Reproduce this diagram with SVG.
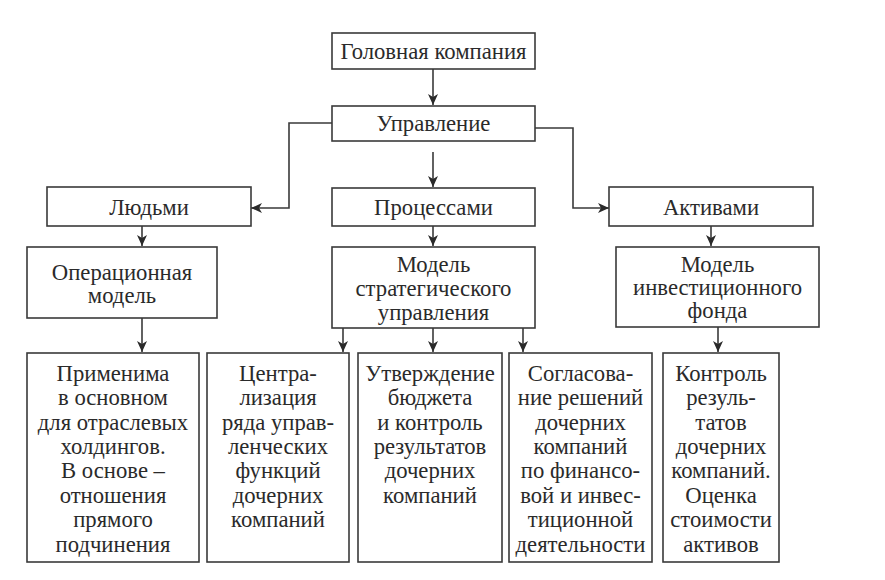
<svg xmlns="http://www.w3.org/2000/svg" width="885" height="580" viewBox="0 0 885 580">
<style>
.b{fill:#fff;stroke:#3a3a3a;stroke-width:1.6}
.t{font-family:"Liberation Serif","DejaVu Serif",serif;font-size:22.7px;fill:#2a2a2a;text-anchor:middle}
.c{fill:none;stroke:#3a3a3a;stroke-width:1.6}
</style>
<defs>
<marker id="ar" markerUnits="userSpaceOnUse" markerWidth="12" markerHeight="10" refX="11" refY="5" orient="auto">
<path d="M0,0 L11,5 L0,10 L3,5 Z" fill="#2a2a2a"/>
</marker>
</defs>
<rect width="885" height="580" fill="#fff"/>
<g id="connectors">
<path class="c" d="M433,69 V105" marker-end="url(#ar)"/>
<path class="c" d="M332,123 H289 V208 H251" marker-end="url(#ar)"/>
<path class="c" d="M535,128 H573 V208 H609" marker-end="url(#ar)"/>
<path class="c" d="M433,152 V187" marker-end="url(#ar)"/>
<path class="c" d="M433,226 V246" marker-end="url(#ar)"/>
<path class="c" d="M142,226 V246" marker-end="url(#ar)"/>
<path class="c" d="M711,226 V246" marker-end="url(#ar)"/>
<path class="c" d="M142,318 V352" marker-end="url(#ar)"/>
<path class="c" d="M343,328 V352" marker-end="url(#ar)"/>
<path class="c" d="M433,328 V352" marker-end="url(#ar)"/>
<path class="c" d="M523,328 V352" marker-end="url(#ar)"/>
<path class="c" d="M718,327 V352" marker-end="url(#ar)"/>
</g>
<g id="n_head"><rect class="b" x="332" y="33" width="203" height="36"/><text class="t" x="433.5" y="59">Головная компания</text></g>
<g id="n_upr"><rect class="b" x="332" y="106" width="203" height="35"/><text class="t" x="433.5" y="131">Управление</text></g>
<g id="n_people"><rect class="b" x="47" y="187" width="204" height="39"/><text class="t" x="149" y="215">Людьми</text></g>
<g id="n_proc"><rect class="b" x="332" y="188" width="203" height="38"/><text class="t" x="433.5" y="215">Процессами</text></g>
<g id="n_assets"><rect class="b" x="609" y="187" width="204" height="39"/><text class="t" x="711" y="215">Активами</text></g>
<g id="n_op"><rect class="b" x="27" y="247" width="190" height="71"/><text class="t" x="122" y="280">Операционная</text><text class="t" x="122" y="303">модель</text></g>
<g id="n_strat"><rect class="b" x="332" y="247" width="203" height="81"/><text class="t" x="433.5" y="272">Модель</text><text class="t" x="433.5" y="296">стратегического</text><text class="t" x="433.5" y="320">управления</text></g>
<g id="n_inv"><rect class="b" x="616" y="247" width="203" height="80"/><text class="t" x="717.5" y="272">Модель</text><text class="t" x="717.5" y="295">инвестиционного</text><text class="t" x="717.5" y="318">фонда</text></g>
<g id="n_b1"><rect class="b" x="27" y="353" width="172" height="209"/>
<text class="t" x="113" y="380.5">Применима</text><text class="t" x="113" y="405">в основном</text><text class="t" x="113" y="429.5">для отраслевых</text><text class="t" x="113" y="454">холдингов.</text><text class="t" x="113" y="478">В основе –</text><text class="t" x="113" y="502.5">отношения</text><text class="t" x="113" y="527">прямого</text><text class="t" x="113" y="551.5">подчинения</text></g>
<g id="n_b2"><rect class="b" x="207" y="353" width="142" height="209"/>
<text class="t" x="278" y="380.5">Центра-</text><text class="t" x="278" y="405">лизация</text><text class="t" x="278" y="429.5">ряда управ-</text><text class="t" x="278" y="454">ленческих</text><text class="t" x="278" y="478">функций</text><text class="t" x="278" y="502.5">дочерних</text><text class="t" x="278" y="527">компаний</text></g>
<g id="n_b3"><rect class="b" x="358" y="353" width="144" height="209"/>
<text class="t" x="430" y="380.5">Утверждение</text><text class="t" x="430" y="405">бюджета</text><text class="t" x="430" y="429.5">и контроль</text><text class="t" x="430" y="454">результатов</text><text class="t" x="430" y="478">дочерних</text><text class="t" x="430" y="502.5">компаний</text></g>
<g id="n_b4"><rect class="b" x="509" y="353" width="143" height="209"/>
<text class="t" x="580.5" y="380.5">Согласова-</text><text class="t" x="580.5" y="405">ние решений</text><text class="t" x="580.5" y="429.5">дочерних</text><text class="t" x="580.5" y="454">компаний</text><text class="t" x="580.5" y="478">по финансо-</text><text class="t" x="580.5" y="502.5">вой и инвес-</text><text class="t" x="580.5" y="527">тиционной</text><text class="t" x="580.5" y="551.5">деятельности</text></g>
<g id="n_b5"><rect class="b" x="663" y="353" width="116" height="209"/>
<text class="t" x="721" y="380.5">Контроль</text><text class="t" x="721" y="405">резуль-</text><text class="t" x="721" y="429.5">татов</text><text class="t" x="721" y="454">дочерних</text><text class="t" x="721" y="478">компаний.</text><text class="t" x="721" y="502.5">Оценка</text><text class="t" x="721" y="527">стоимости</text><text class="t" x="721" y="551.5">активов</text></g>
</svg>
